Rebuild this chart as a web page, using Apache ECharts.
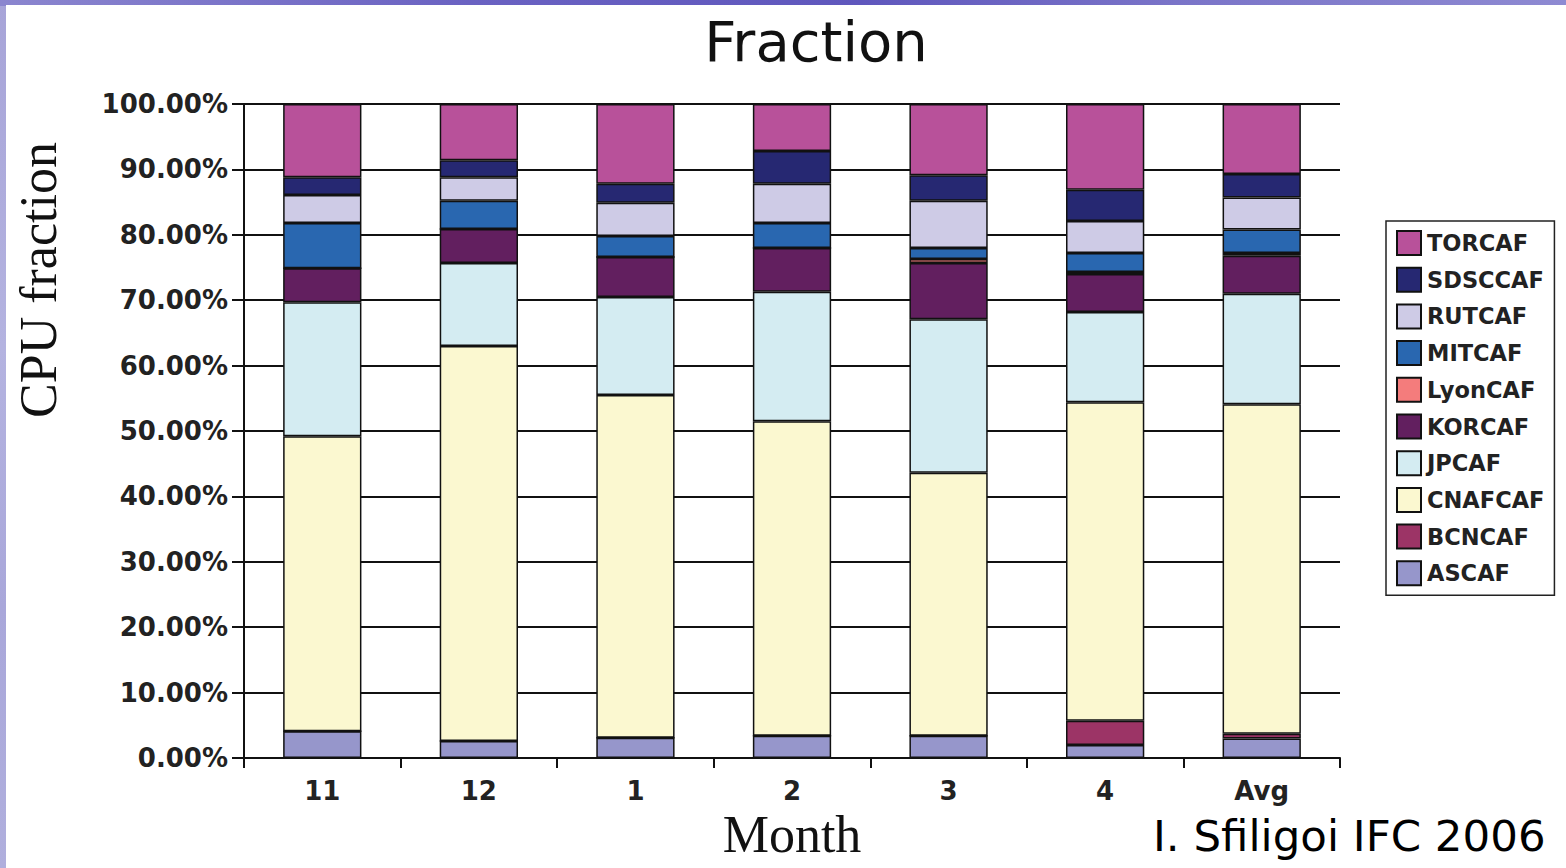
<!DOCTYPE html>
<html>
<head>
<meta charset="utf-8">
<script src="https://cdn.jsdelivr.net/npm/echarts@6/dist/echarts.min.js"></script>
<style>
  html, body { margin: 0; padding: 0; }
  body {
    width: 1566px; height: 868px; overflow: hidden; position: relative;
    background: linear-gradient(180deg, #a7a4d8 0%, #b4b3e0 40%, #a9a7da 70%, #b0afdd 100%);
  }
  #topstrip { position: absolute; left: 0; top: 0; width: 1566px; height: 6px;
    background: linear-gradient(90deg, #8b86cf 0%, #6a62c2 30%, #5f57bd 55%, #7a74c8 75%, #8e8ad2 100%); }
  #paper { position: absolute; left: 6px; top: 5px; width: 1560px; height: 863px; background: #ffffff; }
  #chart { position: absolute; left: 0; top: 0; width: 1566px; height: 868px; }
</style>
</head>
<body>
<div id="topstrip"></div>
<div id="paper"></div>
<div id="chart"></div>
<script>
// ---- data ----
const categories = ['11', '12', '1', '2', '3', '4', 'Avg'];
const yTicks = [0, 10, 20, 30, 40, 50, 60, 70, 80, 90, 100];

const ASCAF   = [4.1, 2.6, 3.1, 3.4, 3.4, 2.0, 3.0];
const BCNCAF  = [0, 0, 0, 0, 0, 3.7, 0.7];
const CNAFCAF = [45.1, 60.4, 52.4, 48.1, 40.2, 48.7, 50.4];
const JPCAF   = [20.5, 12.7, 15.0, 19.8, 23.5, 13.8, 16.9];
const KORCAF  = [5.2, 5.2, 6.1, 6.7, 8.6, 5.8, 5.8];
const LyonCAF = [0, 0, 0, 0, 0.6, 0.3, 0.4];
const MITCAF  = [6.9, 4.3, 3.2, 3.8, 1.7, 2.9, 3.6];
const RUTCAF  = [4.3, 3.6, 5.1, 6.0, 7.2, 4.9, 4.9];
const SDSCCAF = [2.7, 2.6, 2.9, 5.0, 3.9, 4.8, 3.6];
const TORCAF  = [11.2, 8.6, 12.2, 7.2, 10.9, 13.1, 10.7];

const seriesNames = ['ASCAF', 'BCNCAF', 'CNAFCAF', 'JPCAF', 'KORCAF', 'LyonCAF', 'MITCAF', 'RUTCAF', 'SDSCCAF', 'TORCAF'];
const seriesValues = [ASCAF, BCNCAF, CNAFCAF, JPCAF, KORCAF, LyonCAF, MITCAF, RUTCAF, SDSCCAF, TORCAF];
const seriesColors = ['#9696cb', '#9c3466', '#fbf8d0', '#d4ecf2', '#621f5f', '#f47c7c', '#2967b0', '#cecbe6', '#262872', '#b8519a'];

// ---- chart ----
const chart = echarts.init(document.getElementById('chart'), null, { renderer: 'svg' });

const series = seriesNames.map((name, i) => ({
  name: name,
  type: 'bar',
  stack: 'total',
  barWidth: '50%',
  data: seriesValues[i],
  itemStyle: { color: seriesColors[i], borderColor: '#111', borderWidth: 1.5 },
  emphasis: { disabled: true }
}));

const option = {
  backgroundColor: 'transparent',
  animation: false,
  title: {
    text: 'Fraction',
    left: 811,
    top: 8,
    textAlign: 'center',
    textStyle: { fontFamily: 'DejaVu Sans', fontSize: 56, fontWeight: 'normal', color: '#111' }
  },
  legend: {
    orient: 'vertical',
    left: 1386,
    top: 221,
    data: seriesNames.slice().reverse(),
    itemWidth: 24,
    itemHeight: 24,
    itemGap: 10.7,
    padding: [9, 10, 9, 10],
    borderColor: '#222',
    borderWidth: 1.5,
    backgroundColor: '#fff',
    icon: 'rect',
    selectedMode: false,
    textStyle: { fontFamily: 'DejaVu Sans', fontWeight: 'bold', fontSize: 22.5, color: '#222', padding: [0, 0, 0, 1] }
  },
  grid: { left: 244, top: 104, width: 1096, height: 654, containLabel: false, outerBoundsMode: 'none' },
  xAxis: {
    type: 'category',
    data: categories,
    boundaryGap: true,
    name: 'Month',
    nameLocation: 'middle',
    nameGap: 50,
    nameTextStyle: { fontFamily: 'Liberation Serif', fontSize: 52, color: '#111' },
    axisLine: { show: true, lineStyle: { color: '#111', width: 2 } },
    axisTick: { show: true, length: 10, lineStyle: { color: '#111', width: 2 } },
    axisLabel: { margin: 20, fontFamily: 'DejaVu Sans', fontWeight: 'bold', fontSize: 26, color: '#222' }
  },
  yAxis: {
    type: 'value',
    min: yTicks[0],
    max: yTicks[yTicks.length - 1],
    interval: 10,
    axisLine: { show: true, lineStyle: { color: '#111', width: 2 } },
    axisTick: { show: true, length: 12, lineStyle: { color: '#111', width: 2 } },
    axisLabel: {
      margin: 16,
      fontFamily: 'DejaVu Sans', fontWeight: 'bold', fontSize: 26, color: '#222',
      formatter: v => v.toFixed(2) + '%'
    },
    splitLine: { show: true, lineStyle: { color: '#111', width: 2 } }
  },
  graphic: [
    {
      type: 'text',
      x: 38, y: 280,
      rotation: Math.PI / 2,
      style: {
        text: 'CPU fraction',
        fontFamily: 'Liberation Serif', fontSize: 52, fill: '#111',
        align: 'center', verticalAlign: 'middle'
      }
    },
    {
      type: 'text',
      x: 1153, y: 836,
      style: {
        text: 'I. Sfiligoi IFC 2006',
        fontFamily: 'DejaVu Sans', fontSize: 43.5, fill: '#000',
        align: 'left', verticalAlign: 'middle'
      }
    }
  ],
  series: series
};

chart.setOption(option);
</script>
</body>
</html>
